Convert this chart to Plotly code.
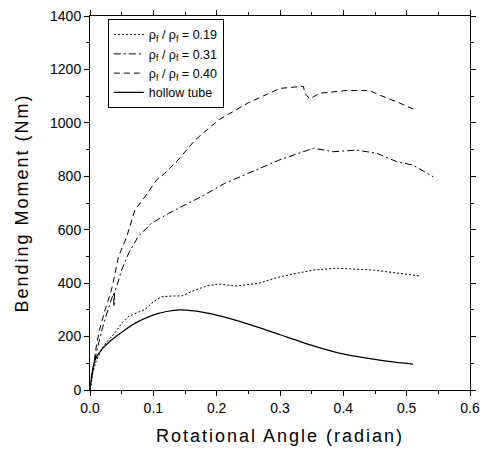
import plotly.graph_objects as go

x_019 = [0, 0.005, 0.01, 0.02, 0.03, 0.039, 0.05, 0.06, 0.075, 0.087, 0.1, 0.113, 0.13, 0.145, 0.166,
         0.185, 0.203, 0.229, 0.266, 0.3, 0.352, 0.39, 0.447, 0.521]
y_019 = [0, 70, 110, 160, 190, 212, 250, 274, 290, 302, 330, 349, 352, 352, 374,
         390, 397, 389, 399, 424, 449, 456, 449, 427]

x_031 = [0, 0.005, 0.01, 0.015, 0.02, 0.025, 0.03, 0.035, 0.037, 0.038, 0.039, 0.042, 0.05, 0.061,
         0.076, 0.097, 0.124, 0.15, 0.176, 0.213, 0.255, 0.3, 0.353, 0.384, 0.421, 0.453, 0.484, 0.51, 0.542]
y_031 = [0, 80, 140, 190, 235, 275, 315, 350, 362, 312, 368, 385, 449, 512,
         574, 624, 661, 693, 724, 774, 817, 862, 905, 892, 898, 886, 855, 842, 798]

x_040 = [0, 0.005, 0.01, 0.015, 0.02, 0.025, 0.03, 0.035, 0.045, 0.058, 0.071, 0.087, 0.105, 0.118,
         0.139, 0.166, 0.203, 0.25, 0.3, 0.337, 0.339, 0.347, 0.363, 0.405, 0.442, 0.453, 0.484, 0.516]
y_040 = [0, 90, 165, 225, 270, 310, 345, 385, 499, 574, 674, 724, 786, 811,
         861, 936, 1011, 1075, 1129, 1137, 1111, 1090, 1111, 1121, 1121, 1108, 1079, 1046]

x_tube = [0, 0.003, 0.008, 0.018, 0.034, 0.055, 0.076, 0.108, 0.14, 0.165, 0.2, 0.255, 0.30,
          0.353, 0.395, 0.437, 0.474, 0.51]
y_tube = [0, 60, 112, 150, 187, 225, 256, 287, 300, 296, 280, 243, 207,
          165, 137, 119, 106, 97]

names = ["ρ<sub>f</sub> / ρ<sub>f</sub> = 0.19", "ρ<sub>f</sub> / ρ<sub>f</sub> = 0.31",
         "ρ<sub>f</sub> / ρ<sub>f</sub> = 0.40", "hollow tube"]

x_ticks = [0.0, 0.1, 0.2, 0.3, 0.4, 0.5, 0.6]
x_ticklabels = ["0.0", "0.1", "0.2", "0.3", "0.4", "0.5", "0.6"]
y_ticks = [0, 200, 400, 600, 800, 1000, 1200, 1400]

FONT = "Arial, 'Liberation Sans', sans-serif"

fig = go.Figure()
fig.add_trace(go.Scatter(x=x_019, y=y_019, mode="lines", name=names[0],
                         line=dict(color="black", width=1, dash="2px,2px")))
fig.add_trace(go.Scatter(x=x_031, y=y_031, mode="lines", name=names[1],
                         line=dict(color="black", width=1, dash="7px,3px,2px,3px")))
fig.add_trace(go.Scatter(x=x_040, y=y_040, mode="lines", name=names[2],
                         line=dict(color="black", width=1, dash="6px,4px")))
fig.add_trace(go.Scatter(x=x_tube, y=y_tube, mode="lines", name=names[3],
                         line=dict(color="black", width=1.2, shape="spline", smoothing=0.6)))

axis_common = dict(showline=True, linecolor="black", linewidth=1, mirror="ticks",
                   ticks="outside", ticklen=5, tickcolor="black", tickwidth=1,
                   showgrid=False, zeroline=False, automargin=False,
                   ticklabeloverflow="allow",
                   tickfont=dict(family=FONT, size=14, color="black"))

fig.update_xaxes(range=[0, 0.6], tickvals=x_ticks, ticktext=x_ticklabels,
                 minor=dict(dtick=0.05, ticks="outside", ticklen=3, tickcolor="black"),
                 title=dict(text="Rotational Angle (radian)", font=dict(family=FONT, size=18, color="black"),
                            standoff=14),
                 **axis_common)
fig.update_yaxes(range=[0, 1400], tickvals=y_ticks,
                 minor=dict(dtick=100, ticks="outside", ticklen=3, tickcolor="black"),
                 title=dict(text="Bending Moment (Nm)", font=dict(family=FONT, size=18, color="black"),
                            standoff=16),
                 **axis_common)

fig.update_layout(
    width=483, height=450,
    margin=dict(l=90, r=13, t=16, b=60),
    plot_bgcolor="white", paper_bgcolor="white",
    font=dict(family=FONT, color="black"),
    legend=dict(x=0.047, y=0.992, xanchor="left", yanchor="top",
                bordercolor="black", borderwidth=1, bgcolor="white",
                font=dict(family=FONT, size=12.5, color="black"),
                tracegroupgap=0, itemwidth=30),
    showlegend=True,
)

post = """
document.body.style.margin='0';
document.body.style.padding='0';
var s=document.querySelectorAll('.xtitle, .ytitle');
s.forEach(function(t){t.style.letterSpacing='2px';});
"""
fig.write_html("out.html", post_script=post, config={"displayModeBar": False})
